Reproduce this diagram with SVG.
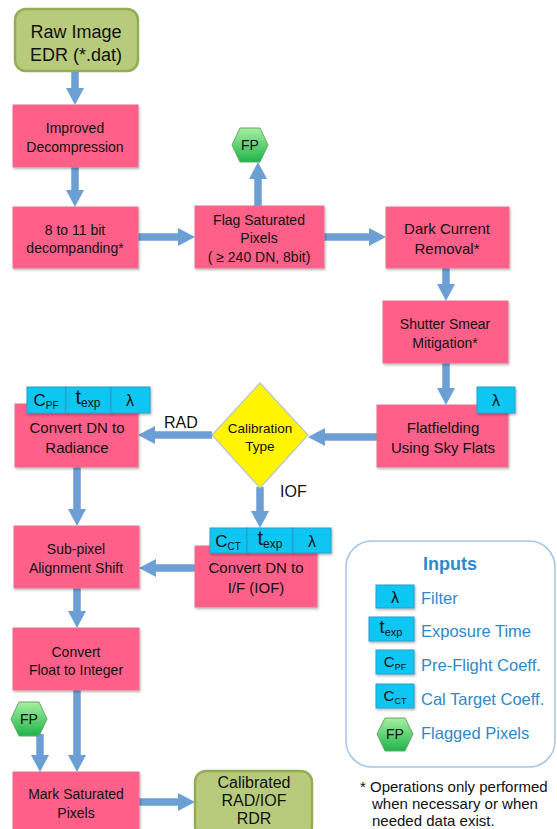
<svg xmlns="http://www.w3.org/2000/svg" width="557" height="829" viewBox="0 0 557 829">
<defs>
<style>
text{font-family:"Liberation Sans",Arial,sans-serif;fill:#111}
.box{fill:#fe6089;stroke:#e9708c;stroke-width:1;filter:url(#sh)}
.grn{fill:#b8cb7c;stroke:#93ad55;stroke-width:2.5}
.tab{fill:#0cc6f2;stroke:#2a9ccc;stroke-width:1;filter:url(#sh)}
.hex{fill:url(#hg);stroke:#62a865;stroke-width:1}
.t14{font-size:14px;text-anchor:middle}
.t15{font-size:15px;text-anchor:middle}
.big{font-size:18px;text-anchor:middle}
.lbl{font-size:16px}
.leg{font-size:16.5px;fill:#2e88cc}
.tabt{text-anchor:middle}
.con line{stroke:#6c9fd4;stroke-width:7.5;marker-end:url(#ah)}
</style>
<linearGradient id="hg" x1="0" y1="0" x2="0" y2="1">
<stop offset="0" stop-color="#a6f0a0"/>
<stop offset="1" stop-color="#1fb44b"/>
</linearGradient>
<filter id="sh" x="-10%" y="-10%" width="130%" height="130%">
<feDropShadow dx="1" dy="1.5" stdDeviation="1.2" flood-color="#000" flood-opacity="0.3"/>
</filter>
<marker id="ah" viewBox="0 0 17 18" refX="0" refY="9" markerWidth="17" markerHeight="18" orient="auto" markerUnits="userSpaceOnUse">
<path d="M0,0 L17,9 L0,18 z" fill="#6c9fd4"/>
</marker>
</defs>

<g id="connectors" class="con">
<line x1="75" y1="72" x2="75" y2="88"/>
<line x1="75" y1="167" x2="75" y2="190"/>
<line x1="138" y1="237" x2="178" y2="237"/>
<line x1="258" y1="206" x2="258" y2="179"/>
<line x1="324" y1="237" x2="369" y2="237"/>
<line x1="446" y1="268" x2="446" y2="284"/>
<line x1="446" y1="363" x2="446" y2="388"/>
<line x1="377" y1="437" x2="325" y2="437"/>
<line x1="212" y1="435" x2="155" y2="435"/>
<line x1="77" y1="467" x2="77" y2="509"/>
<line x1="260" y1="487" x2="260" y2="511"/>
<line x1="195" y1="568" x2="156" y2="568"/>
<line x1="77" y1="588" x2="77" y2="611"/>
<line x1="77" y1="690" x2="77" y2="755"/>
<line x1="40" y1="734" x2="40" y2="755"/>
<line x1="139" y1="802" x2="178" y2="802"/>
</g>

<g id="raw">
<rect class="grn" x="15" y="9" width="123" height="62" rx="11"/>
<text class="big" x="76" y="38">Raw Image</text>
<text class="big" x="76" y="61">EDR (*.dat)</text>
</g>

<g id="decomp">
<rect class="box" x="13" y="105" width="125" height="62"/>
<text class="t14" x="75" y="133">Improved</text>
<text class="t14" x="75" y="152">Decompression</text>
</g>

<g id="decompand">
<rect class="box" x="13" y="207" width="125" height="61"/>
<text class="t14" x="75" y="235">8 to 11 bit</text>
<text class="t14" x="75" y="253">decompanding*</text>
</g>

<g id="flag">
<rect class="box" x="195" y="206" width="129" height="62"/>
<text class="t14" x="259" y="225">Flag Saturated</text>
<text class="t14" x="259" y="243">Pixels</text>
<text class="t14" x="259" y="262">( ≥ 240 DN, 8bit)</text>
</g>

<g id="fp1">
<polygon class="hex" points="232,145 240,128 260,128 268,145 260,162 240,162"/>
<text class="t14" x="250" y="150">FP</text>
</g>

<g id="dark">
<rect class="box" x="386" y="207" width="123" height="61"/>
<text class="t15" x="447" y="234">Dark Current</text>
<text class="t15" x="447" y="254">Removal*</text>
</g>

<g id="shutter">
<rect class="box" x="383" y="301" width="125" height="62"/>
<text class="t14" x="445" y="329">Shutter Smear</text>
<text class="t14" x="445" y="348">Mitigation*</text>
</g>

<g id="flat">
<rect class="box" x="377" y="405" width="131" height="62"/>
<text class="t15" x="443" y="433">Flatfielding</text>
<text class="t15" x="443" y="453">Using Sky Flats</text>
<rect class="tab" x="477" y="387" width="38" height="26"/>
<text class="tabt" x="496" y="406" font-size="16">λ</text>
</g>

<g id="caltype">
<polygon points="260,383 308,435 260,488 212,435" fill="#fff500" stroke="#b9c3cc" stroke-width="1.2"/>
<text x="260" y="433" font-size="13.5" text-anchor="middle">Calibration</text>
<text x="260" y="451" font-size="13.5" text-anchor="middle">Type</text>
</g>

<g id="labels">
<text class="lbl" x="164" y="428">RAD</text>
<text class="lbl" x="280" y="497">IOF</text>
</g>

<g id="radiance">
<rect class="box" x="15" y="404" width="123" height="63"/>
<text class="t15" x="77" y="433">Convert DN to</text>
<text class="t15" x="77" y="453">Radiance</text>
<rect class="tab" x="27" y="387" width="39" height="26"/>
<rect class="tab" x="66" y="387" width="45" height="26"/>
<rect class="tab" x="111" y="387" width="39" height="26"/>
<text class="tabt" x="46" y="406" font-size="17">C<tspan font-size="10" dy="3">PF</tspan></text>
<text class="tabt" x="88" y="404" font-size="20">t<tspan font-size="12" dy="3">exp</tspan></text>
<text class="tabt" x="130" y="406" font-size="16">λ</text>
</g>

<g id="iof">
<rect class="box" x="195" y="546" width="122" height="61"/>
<text class="t15" x="256" y="573">Convert DN to</text>
<text class="t15" x="256" y="593">I/F (IOF)</text>
<rect class="tab" x="210" y="528" width="37" height="25"/>
<rect class="tab" x="247" y="528" width="46" height="25"/>
<rect class="tab" x="293" y="528" width="38" height="25"/>
<text class="tabt" x="228" y="547" font-size="17">C<tspan font-size="10" dy="3">CT</tspan></text>
<text class="tabt" x="270" y="545" font-size="20">t<tspan font-size="12" dy="3">exp</tspan></text>
<text class="tabt" x="312" y="547" font-size="16">λ</text>
</g>

<g id="subpixel">
<rect class="box" x="14" y="526" width="125" height="62"/>
<text class="t14" x="76" y="554">Sub-pixel</text>
<text class="t14" x="76" y="573">Alignment Shift</text>
</g>

<g id="float">
<rect class="box" x="13" y="628" width="126" height="62"/>
<text class="t14" x="76" y="657">Convert</text>
<text class="t14" x="76" y="675">Float to Integer</text>
</g>

<g id="fp2">
<polygon class="hex" points="11,719 19,702 39,702 47,719 39,736 19,736"/>
<text class="t14" x="29" y="724">FP</text>
</g>

<g id="mark">
<rect class="box" x="13" y="772" width="126" height="64"/>
<text class="t14" x="76" y="799">Mark Saturated</text>
<text class="t14" x="76" y="818">Pixels</text>
</g>

<g id="calibrated">
<rect class="grn" x="195" y="771" width="117" height="66" rx="11"/>
<text x="254" y="788" font-size="16" text-anchor="middle">Calibrated</text>
<text x="254" y="806" font-size="16" text-anchor="middle">RAD/IOF</text>
<text x="254" y="824" font-size="16" text-anchor="middle">RDR</text>
</g>

<g id="legend">
<rect x="346" y="541" width="209" height="226" rx="26" fill="#fff" stroke="#a3c5e6" stroke-width="1.5"/>
<text x="450" y="570" font-size="18" font-weight="bold" text-anchor="middle" style="fill:#2e88cc">Inputs</text>
<rect class="tab" x="376" y="585" width="38" height="23"/>
<text class="tabt" x="395" y="603" font-size="16">λ</text>
<text class="leg" x="421" y="604">Filter</text>
<rect class="tab" x="369" y="617" width="45" height="24"/>
<text class="tabt" x="391" y="633" font-size="18">t<tspan font-size="11" dy="3">exp</tspan></text>
<text class="leg" x="421" y="637">Exposure Time</text>
<rect class="tab" x="376" y="650" width="38" height="24"/>
<text class="tabt" x="395" y="667" font-size="15">C<tspan font-size="9" dy="3">PF</tspan></text>
<text class="leg" x="421" y="671">Pre-Flight Coeff.</text>
<rect class="tab" x="376" y="684" width="38" height="24"/>
<text class="tabt" x="395" y="701" font-size="15">C<tspan font-size="9" dy="3">CT</tspan></text>
<text class="leg" x="421" y="705">Cal Target Coeff.</text>
<polygon class="hex" points="377,734 385,718 405,718 413,734 405,751 385,751"/>
<text class="t14" x="395" y="739">FP</text>
<text class="leg" x="421" y="739">Flagged Pixels</text>
</g>

<g id="footnote">
<text x="360" y="792" font-size="15">* Operations only performed</text>
<text x="372" y="809" font-size="15">when necessary or when</text>
<text x="372" y="826" font-size="15">needed data exist.</text>
</g>
</svg>
